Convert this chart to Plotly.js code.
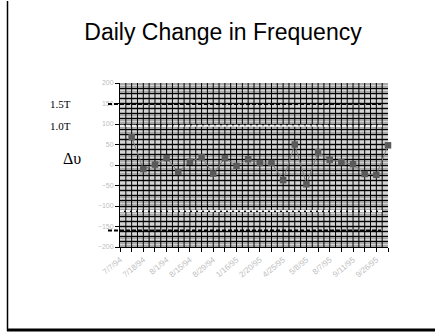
<!DOCTYPE html>
<html><head><meta charset="utf-8">
<script src="https://cdn.plot.ly/plotly-3.0.1.min.js"></script>
<style>html,body{margin:0;padding:0;background:#fff}#chart{width:435px;height:332px}</style>
</head><body><div id="chart"></div>
<script>
// ---- data ----
const dateLabels = ['7/7/94','7/18/94','8/1/94','8/15/94','8/29/94','1/16/95','2/20/95','4/25/95','5/8/95','8/7/95','9/11/95','9/26/95'];
const freqChange = [null,68,-10,1,17,-17,8,19,-21,17,-2,14,5,5,-37,50,-47,31,13,7,2,-22,-24,48];
const limit15 = [149, -160];
const limit10 = [96, -112];
const sideLabels = ['1.5T', '1.0T', '\u0394\u03c5'];
const sideLabelValues = [149, 96, 17];
const yTickVals = [200,150,100,50,0,-50,-100,-150,-200];

// ---- layout helpers ----
const W = 435, H = 332, M = {l: 120, r: 47, t: 83, b: 85, pad: 0};
const px = v => (v - M.l) / (W - M.l - M.r);
const py = v => (H - M.b - v) / (H - M.t - M.b);

const xIdx = freqChange.map((_, i) => i);
const tickText = xIdx.map(i => (i % 2 === 0 ? dateLabels[i / 2] : ''));
const yMin = yTickVals[yTickVals.length - 1], yMax = yTickVals[0];

// hatch pattern of the plot fill: vertical lines every half category
const hx = [], hy = [];
for (let k = 1; k < 2 * (xIdx.length - 1); k++) { hx.push(k / 2, k / 2, null); hy.push(yMin, yMax, null); }
const hatch = {x: hx, y: hy, type: 'scatter', mode: 'lines', line: {color: '#000', width: 1},
  hoverinfo: 'skip', connectgaps: false};

const trace = {
  x: xIdx, y: freqChange, type: 'scatter', mode: 'lines+markers',
  line: {color: '#7a7a7a', width: 1},
  marker: {symbol: 'square', size: 6.5, color: '#5a5a5a'},
  cliponaxis: false, connectgaps: false, hoverinfo: 'skip'
};

const shapes = [];
limit15.forEach(v => shapes.push({type: 'line', xref: 'paper', yref: 'y', x0: px(108), x1: px(381), y0: v, y1: v,
  line: {color: '#000', width: 2, dash: '4px,2px'}, layer: 'above'}));
limit10.forEach(v => shapes.push({type: 'line', xref: 'paper', yref: 'y', x0: px(120), x1: px(384), y0: v, y1: v,
  line: {color: '#f2f2f2', width: 2, dash: '4px,2px'}, layer: 'above'}));
// slide frame
shapes.push({type: 'line', xref: 'paper', yref: 'paper', x0: px(7.5), x1: px(7.5), y0: py(1), y1: py(331), line: {color: '#000', width: 1.5}});
shapes.push({type: 'line', xref: 'paper', yref: 'paper', x0: px(7), x1: px(435), y0: py(330), y1: py(330), line: {color: '#000', width: 3}});

const annotations = sideLabels.map((t, i) => ({
  text: t, xref: 'paper', yref: 'y', x: px(i === 2 ? 72 : 60), y: sideLabelValues[i],
  showarrow: false, xanchor: 'center', yanchor: 'middle',
  font: {family: 'Liberation Serif, Times New Roman, serif', size: i === 2 ? 16 : 11, color: '#000000'}
}));

const fontSans = 'Liberation Sans, Arial, sans-serif';
const layout = {
  width: W, height: H, margin: M,
  paper_bgcolor: '#ffffff', plot_bgcolor: '#a8a8a8',
  showlegend: false,
  title: {text: 'Daily Change in Frequency', x: 223 / W, xanchor: 'center', xref: 'container',
    y: 1 - 32 / H, yanchor: 'middle', yref: 'container',
    font: {family: fontSans, size: 23, color: '#000'}},
  xaxis: {
    range: [0, 23], tickmode: 'array', tickvals: xIdx, ticktext: tickText, tickangle: -40,
    ticks: 'outside', ticklen: 4, tickcolor: '#000', tickwidth: 1,
    showgrid: false,
    showline: true, linecolor: '#000', linewidth: 1, zeroline: false,
    tickfont: {family: fontSans, size: 8, color: '#bdbdbd'},
    fixedrange: true
  },
  yaxis: {
    range: [yMin, yMax], tickmode: 'array', tickvals: yTickVals,
    ticks: 'outside', ticklen: 4, tickcolor: '#000', tickwidth: 1,
    showgrid: false,
    showline: true, linecolor: '#000', linewidth: 1, zeroline: false,
    tickfont: {family: fontSans, size: 7, color: '#bdbdbd'},
    fixedrange: true
  },
  yaxis2: {
    range: [yMin, yMax], overlaying: 'y', tickmode: 'linear', tick0: 0, dtick: 12.5,
    showgrid: true, gridcolor: '#000', gridwidth: 1, showticklabels: false, ticks: '',
    zeroline: false, showline: false, fixedrange: true
  },
  yaxis3: {
    range: [yMin, yMax], overlaying: 'y', tickmode: 'linear', tick0: 6.25, dtick: 12.5,
    showgrid: true, gridcolor: '#d4d4d4', gridwidth: 1.5, showticklabels: false, ticks: '',
    zeroline: false, showline: false, fixedrange: true
  },
  shapes: shapes, annotations: annotations
};

const helper2 = {x: [0], y: [0], yaxis: 'y2', type: 'scatter', mode: 'markers', marker: {opacity: 0}, hoverinfo: 'skip'};
const helper3 = {x: [0], y: [0], yaxis: 'y3', type: 'scatter', mode: 'markers', marker: {opacity: 0}, hoverinfo: 'skip'};

Plotly.newPlot('chart', [helper2, helper3, hatch, trace], layout, {staticPlot: true, displayModeBar: false});
</script></body></html>
